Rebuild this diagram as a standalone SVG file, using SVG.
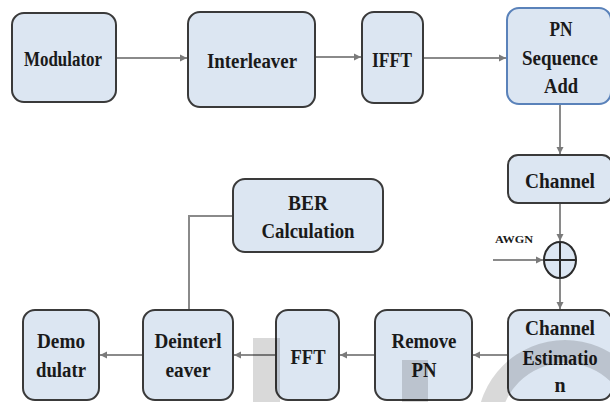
<svg xmlns="http://www.w3.org/2000/svg" width="610" height="402" viewBox="0 0 610 402">
<style>
.box{fill:#dce6f2;stroke:#3a3a3a;stroke-width:2}
.boxb{fill:#dce6f2;stroke:#5a82ba;stroke-width:2}
.t{font-weight:bold;font-size:20px;fill:#1a1a1a;text-anchor:middle}
.s{font-weight:bold;font-size:11px;fill:#1a1a1a}
.c{fill:none;stroke:#8a8a8a;stroke-width:2}
.wm{fill:#000;fill-opacity:0.15}
</style>
<defs>
<marker id="ah" markerWidth="8" markerHeight="8" refX="7" refY="4" orient="auto" markerUnits="userSpaceOnUse">
<path d="M0,0.5 L7,4 L0,7.5 Z" fill="#7a7a7a"/>
</marker>
</defs>
<rect width="610" height="402" fill="#fff"/>
<g id="connectors">
<line class="c" x1="116" y1="58" x2="187" y2="58" marker-end="url(#ah)"/>
<line class="c" x1="315" y1="57" x2="361" y2="57" marker-end="url(#ah)"/>
<line class="c" x1="423" y1="58" x2="506" y2="58" marker-end="url(#ah)"/>
<line class="c" x1="560" y1="104" x2="560" y2="154" marker-end="url(#ah)"/>
<line class="c" x1="560" y1="203" x2="560" y2="241" marker-end="url(#ah)"/>
<line class="c" x1="493" y1="260" x2="543" y2="260" marker-end="url(#ah)"/>
<line class="c" x1="560" y1="278" x2="560" y2="309" marker-end="url(#ah)"/>
<line class="c" x1="508" y1="355" x2="473" y2="355" marker-end="url(#ah)"/>
<line class="c" x1="375" y1="355" x2="340" y2="355" marker-end="url(#ah)"/>
<line class="c" x1="276" y1="355" x2="234" y2="355" marker-end="url(#ah)"/>
<line class="c" x1="143" y1="355" x2="100" y2="355" marker-end="url(#ah)"/>
<polyline class="c" points="233,216 189,216 189,310"/>
</g>
<g font-family="Liberation Serif, DejaVu Serif, Times New Roman, serif">
<g id="modulator">
<rect class="box" x="12" y="13" width="104" height="89" rx="12"/>
<text class="t" x="63" y="66" textLength="78" lengthAdjust="spacingAndGlyphs">Modulator</text>
</g>
<g id="interleaver">
<rect class="box" x="188" y="12" width="127" height="95" rx="12"/>
<text class="t" x="252" y="68" textLength="90" lengthAdjust="spacingAndGlyphs">Interleaver</text>
</g>
<g id="ifft">
<rect class="box" x="362" y="12" width="61" height="91" rx="12"/>
<text class="t" x="392" y="67" textLength="40" lengthAdjust="spacingAndGlyphs">IFFT</text>
</g>
<g id="pn-add">
<rect class="boxb" x="507" y="8" width="104" height="96" rx="12"/>
<text class="t" x="561" y="36" textLength="23" lengthAdjust="spacingAndGlyphs">PN</text>
<text class="t" x="560" y="65" textLength="76" lengthAdjust="spacingAndGlyphs">Sequence</text>
<text class="t" x="561" y="93" textLength="34" lengthAdjust="spacingAndGlyphs">Add</text>
</g>
<g id="channel">
<rect class="box" x="508" y="155" width="104" height="48" rx="10"/>
<text class="t" x="560" y="188" textLength="70" lengthAdjust="spacingAndGlyphs">Channel</text>
</g>
<g id="adder">
<ellipse cx="560" cy="260" rx="16" ry="18" fill="#dce6f2" stroke="#2a2a2a" stroke-width="2"/>
<line x1="560" y1="242" x2="560" y2="278" stroke="#2a2a2a" stroke-width="2"/>
<line x1="544" y1="260" x2="576" y2="260" stroke="#2a2a2a" stroke-width="2"/>
<text class="s" x="495" y="243" textLength="38" lengthAdjust="spacingAndGlyphs">AWGN</text>
</g>
<g id="ber">
<rect class="box" x="233" y="179" width="150" height="73" rx="12"/>
<text class="t" x="308" y="210" textLength="40" lengthAdjust="spacingAndGlyphs">BER</text>
<text class="t" x="308" y="238" textLength="93" lengthAdjust="spacingAndGlyphs">Calculation</text>
</g>
<g id="channel-estimation">
<rect class="box" x="508" y="310" width="104" height="90" rx="12"/>
<text class="t" x="560" y="335" textLength="70" lengthAdjust="spacingAndGlyphs">Channel</text>
<text class="t" x="560" y="365" textLength="75" lengthAdjust="spacingAndGlyphs">Estimatio</text>
<text class="t" x="560" y="392">n</text>
</g>
<g id="remove-pn">
<rect class="box" x="375" y="310" width="97" height="90" rx="12"/>
<text class="t" x="424" y="348" textLength="65" lengthAdjust="spacingAndGlyphs">Remove</text>
<text class="t" x="424" y="377" textLength="25" lengthAdjust="spacingAndGlyphs">PN</text>
</g>
<g id="fft">
<rect class="box" x="276" y="310" width="63" height="90" rx="12"/>
<text class="t" x="308" y="364" textLength="35" lengthAdjust="spacingAndGlyphs">FFT</text>
</g>
<g id="deinterleaver">
<rect class="box" x="143" y="310" width="90" height="90" rx="12"/>
<text class="t" x="188" y="348" textLength="67" lengthAdjust="spacingAndGlyphs">Deinterl</text>
<text class="t" x="188" y="377" textLength="45" lengthAdjust="spacingAndGlyphs">eaver</text>
</g>
<g id="demodulator">
<rect class="box" x="23" y="310" width="76" height="90" rx="12"/>
<text class="t" x="61" y="348" textLength="48" lengthAdjust="spacingAndGlyphs">Demo</text>
<text class="t" x="61" y="377" textLength="50" lengthAdjust="spacingAndGlyphs">dulatr</text>
</g>
</g>
<g id="watermark">
<rect class="wm" x="253" y="338" width="27" height="64"/>
<rect class="wm" x="402" y="360" width="26" height="42"/>
<path class="wm" fill-rule="evenodd" d="M477,428 A88,88 0 0 1 653,428 A88,88 0 0 1 477,428 Z M500,428 A65,65 0 0 0 630,428 A65,65 0 0 0 500,428 Z"/>
</g>
</svg>
